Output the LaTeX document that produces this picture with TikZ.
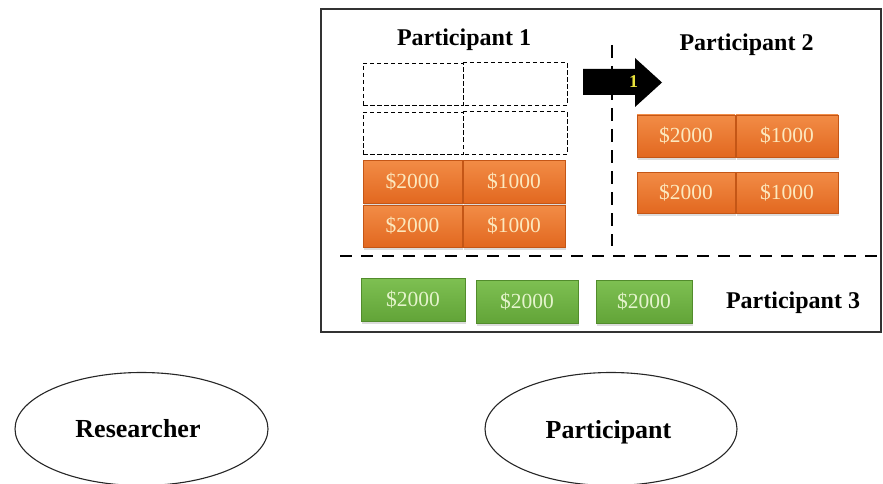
\documentclass[tikz,border=0pt]{standalone}
\usepackage{fontspec}
\setmainfont{Liberation Serif}
\usetikzlibrary{shadows,shapes.geometric}
\definecolor{orangeTop}{RGB}{242,140,70}
\definecolor{orangeBot}{RGB}{226,104,32}
\definecolor{orangeEdge}{RGB}{196,86,22}
\definecolor{greenTop}{RGB}{126,192,82}
\definecolor{greenBot}{RGB}{98,164,56}
\definecolor{greenEdge}{RGB}{82,140,44}
\definecolor{cashText}{RGB}{252,232,190}
\definecolor{cashTextG}{RGB}{228,244,204}
\definecolor{frameGray}{RGB}{50,50,50}
\definecolor{tagYellow}{RGB}{232,226,60}
\tikzset{
  cashbox/.style={rectangle, inner sep=0pt, font=\fontsize{21.5}{21.5}\selectfont,
    drop shadow={opacity=0.28, shadow xshift=1pt, shadow yshift=-2.5pt}},
  obox/.style={cashbox, top color=orangeTop, bottom color=orangeBot,
    draw=orangeEdge, line width=0.5pt, text=cashText},
  gbox/.style={cashbox, top color=greenTop, bottom color=greenBot,
    draw=greenEdge, line width=0.5pt, text=cashTextG},
  slotline/.style={draw=black, dash pattern=on 4.5pt off 2.5pt, line width=0.9pt},
  emptybox/.style={rectangle, slotline, inner sep=0pt},
  openslot/.style={rectangle, inner sep=0pt},
  title/.style={font=\fontsize{24}{24}\selectfont\bfseries, anchor=base},
  role/.style={ellipse, draw=black!85, line width=1.1pt, inner sep=0pt},
  divider/.style={line width=2.6pt, dash pattern=on 12pt off 9pt},
}
\begin{document}
\begin{tikzpicture}[x=1pt, y=-1pt]
\useasboundingbox (0,0) rectangle (883,484);

% outer frame
\draw[frameGray, line width=1.4pt] (321,9) rectangle (881,332);

% dividers
\coordinate (vtop) at (612,45);
\coordinate (vbot) at (612,246);
\coordinate (hleft) at (340,256);
\coordinate (hright) at (882,256);
\draw[divider, dash pattern=on 13pt off 8pt] (vtop) -- (vbot);
\draw[divider] (hleft) -- (hright);

% titles
\node[title] (p1) at (464,46) {Participant 1};
\node[title] (p2) at (746.5,51) {Participant 2};
\node[title] (p3) at (793,308) {Participant 3};

% participant 1: empty slots (shared edge drawn once)
\node[emptybox, minimum width=100pt, minimum height=42pt] (e11) at (413,84) {};
\node[openslot, minimum width=104pt, minimum height=42pt] (e12) at (515,84) {};
\node[emptybox, minimum width=100pt, minimum height=42pt] (e21) at (413,133) {};
\node[openslot, minimum width=104pt, minimum height=42pt] (e22) at (515,133) {};
\draw[slotline] (e12.north west) -- (e12.north east) -- (e12.south east) -- (e12.south west);
\draw[slotline] (e22.north west) -- (e22.north east) -- (e22.south east) -- (e22.south west);

% participant 1: cash
\node[obox, minimum width=99pt, minimum height=43pt] (a11) at (412.5,181.5) {\$2000};
\node[obox, minimum width=102pt, minimum height=43pt] (a12) at (514,181.5) {\$1000};
\node[obox, minimum width=99pt, minimum height=42pt] (a21) at (412.5,226) {\$2000};
\node[obox, minimum width=102pt, minimum height=42pt] (a22) at (514,226) {\$1000};

% participant 2: cash
\node[obox, minimum width=98pt, minimum height=42pt] (b11) at (686,136) {\$2000};
\node[obox, minimum width=102pt, minimum height=42pt] (b12) at (787,136) {\$1000};
\node[obox, minimum width=98pt, minimum height=41pt] (b21) at (686,192.5) {\$2000};
\node[obox, minimum width=102pt, minimum height=41pt] (b22) at (787,192.5) {\$1000};

% participant 3: cash
\node[gbox, minimum width=104pt, minimum height=43pt] (g1) at (413,299.5) {\$2000};
\node[gbox, minimum width=102pt, minimum height=43pt] (g2) at (527,301.5) {\$2000};
\node[gbox, minimum width=96pt, minimum height=43pt] (g3) at (644,301.5) {\$2000};

% transfer arrow
\fill[black] (583,69) -- (635,69) -- (635,58) -- (662,82.5) -- (635,107)
  -- (635,95) -- (583,95) -- cycle;
\node[font=\fontsize{18}{18}\selectfont\bfseries, text=tagYellow] (tag) at (633.5,82) {1};

% roles
\node[role, minimum width=253pt, minimum height=113pt] (researcher) at (141.5,429) {};
\node[title, font=\fontsize{26}{26}\selectfont\bfseries] (rlabel) at (138,437) {Researcher};
\node[role, minimum width=252pt, minimum height=113pt] (participant) at (611,429) {};
\node[title, font=\fontsize{26}{26}\selectfont\bfseries] (plabel) at (608.5,438) {Participant};
\end{tikzpicture}
\end{document}
